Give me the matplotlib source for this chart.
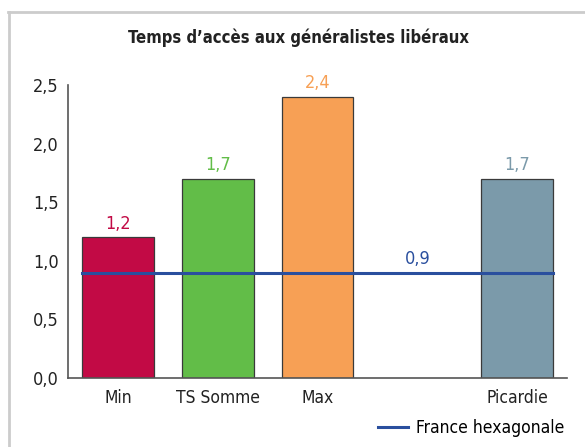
import numpy as np
import matplotlib.pyplot as plt
from matplotlib.lines import Line2D

plt.rcParams['font.family'] = ['DejaVu Sans']
plt.rcParams['font.stretch'] = 'condensed'

labels = ['Min', 'TS Somme', 'Max', '', 'Picardie']
values = [1.2, 1.7, 2.4, np.nan, 1.7]
colors = ['#c20a45', '#62bd48', '#f7a055', 'none', '#7b9aaa']
france = 0.9

fig = plt.figure(figsize=(5.85, 4.47), dpi=100)
ax = fig.add_axes([68 / 585, 1 - 378 / 447, (567 - 68) / 585, (378 - 85) / 447])

x = np.arange(len(labels))
for i in range(len(labels)):
    if np.isnan(values[i]):
        continue
    ax.bar(x[i], values[i], width=0.72, color=colors[i], edgecolor='#3a3a3a', linewidth=0.9, zorder=2)
    ax.text(x[i], values[i] + 0.04, ('%.1f' % values[i]).replace('.', ','),
            ha='center', va='bottom', color=colors[i], fontsize=13)

# ligne France hexagonale
ax.plot([-0.36, 4.36], [france, france], color='#2a4f9e', linewidth=2.2, zorder=3)
ax.text(3, france + 0.04, ('%.1f' % france).replace('.', ','), ha='center', va='bottom',
        color='#2a4f9e', fontsize=13)

ax.set_xlim(-0.5, 4.5)
ax.set_ylim(0, 2.5)
ax.set_xticks(x)
ax.set_xticklabels(labels, fontsize=12.5, color='#222222')
ax.set_yticks(np.arange(0, 2.51, 0.5))
ax.set_yticklabels([('%.1f' % v).replace('.', ',') for v in np.arange(0, 2.51, 0.5)],
                   fontsize=13, color='#222222')
ax.tick_params(length=0, pad=6.5)
ax.tick_params(axis='x', pad=8)
for s in ['top', 'right']:
    ax.spines[s].set_visible(False)
for s in ['left', 'bottom']:
    ax.spines[s].set_color('#555555')
    ax.spines[s].set_linewidth(1.2)

fig.text(298 / 585, 1 - 38 / 447, 'Temps d\u2019accès aux généralistes libéraux',
         ha='center', va='center', fontsize=12, fontweight='bold', color='#222222')

# légende
leg_line = Line2D([], [], color='#2a4f9e', linewidth=2.2)
fig.legend([leg_line], ['France hexagonale'], loc='center right',
           bbox_to_anchor=(564 / 585, 1 - 428 / 447), frameon=False, fontsize=12.5,
           handlelength=1.7, handletextpad=0.45, borderaxespad=0, borderpad=0)

# cadre gris
fig.add_artist(Line2D([8 / 585, 1], [1 - 12 / 447, 1 - 12 / 447], color='#cccccc', linewidth=2,
                      transform=fig.transFigure))
fig.add_artist(Line2D([9 / 585, 9 / 585], [0, 1 - 12 / 447], color='#cccccc', linewidth=2,
                      transform=fig.transFigure))

fig.savefig('out.png', dpi=100)
